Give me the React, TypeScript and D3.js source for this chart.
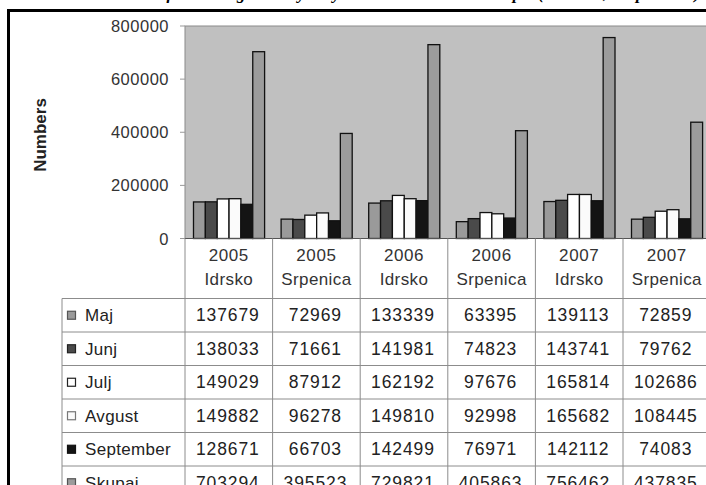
import React from "react";
import * as d3 from "d3";

const years = ["2005", "2005", "2006", "2006", "2007", "2007"];
const places = ["Idrsko", "Srpenica", "Idrsko", "Srpenica", "Idrsko", "Srpenica"];
const seriesNames = ["Maj", "Junj", "Julj", "Avgust", "September", "Skupaj"];
const maj = [137679, 72969, 133339, 63395, 139113, 72859];
const junj = [138033, 71661, 141981, 74823, 143741, 79762];
const julj = [149029, 87912, 162192, 97676, 165814, 102686];
const avgust = [149882, 96278, 149810, 92998, 165682, 108445];
const september = [128671, 66703, 142499, 76971, 142112, 74083];
const skupaj = [703294, 395523, 729821, 405863, 756462, 437835];
const yTicks = [0, 200000, 400000, 600000, 800000];

const seriesValues = [maj, junj, julj, avgust, september, skupaj];
const fills = ["#9a9a9a", "#4a4a4a", "#ffffff", "#fbfbfb", "#141414", "#9c9c9c"];
const keyStrokes = ["#555", "#222", "#222", "#777", "#111", "#555"];

const W = 706;
const H = 485;
const plotL = 185;
const band = 87.6;
const plotT = 26;
const plotB = 238.5;
const rowTop = 298.5;
const rowH = 33.5;

export default function App() {
  const cats = years.map((y, i) => `${y} ${places[i]}`);
  const x = d3.scaleBand<string>().domain(cats).range([plotL, plotL + band * cats.length]).padding(0);
  const xs = d3.scaleBand<string>().domain(seriesNames).range([8.5, band - 8]).padding(0);
  const y = d3.scaleLinear().domain([0, 800000]).range([plotB, plotT]);
  const font = "'Liberation Sans', Arial, sans-serif";

  return (
    <svg width={W} height={H} style={{ position: "absolute", left: 0, top: 0, background: "#fff" }} fontFamily={font}>
      {/* clipped title (only descenders visible, as in the reference) */}
      <text x={80} y={-1} fontFamily="'Liberation Serif', 'Times New Roman', serif" fontWeight="bold" fontStyle="italic" fontSize={17} textLength={620} lengthAdjust="spacing">
        Number of overnight stays by months in the camps (Idrsko, Srpenica)
      </text>
      {/* frame */}
      <line x1={8.5} x2={W} y1={10.5} y2={10.5} stroke="#000" strokeWidth={3} />
      <line x1={8.5} x2={8.5} y1={9} y2={H} stroke="#000" strokeWidth={3} />

      {/* plot area */}
      <rect x={plotL} y={plotT} width={W - plotL + 10} height={plotB - plotT} fill="#c0c0c0" stroke="#8a8a8a" strokeWidth={1} />

      {/* y axis */}
      {yTicks.map((t) => (
        <g key={t}>
          <line x1={180} x2={plotL} y1={y(t)} y2={y(t)} stroke="#999" strokeWidth={1} />
          <text x={169} y={y(t) + 6} textAnchor="end" fontSize={16.5} letterSpacing={0.5} fill="#333">
            {t}
          </text>
        </g>
      ))}
      <text transform={`translate(46,${135}) rotate(-90)`} textAnchor="middle" fontSize={17} fontWeight="bold" fill="#222">
        Numbers
      </text>

      {/* bars */}
      {cats.map((c, ci) => (
        <g key={c} transform={`translate(${x(c)},0)`}>
          {seriesNames.map((s, si) => {
            const v = seriesValues[si][ci];
            return (
              <rect
                key={s}
                x={xs(s)}
                y={y(v)}
                width={xs.bandwidth()}
                height={plotB - y(v)}
                fill={fills[si]}
                stroke="#111"
                strokeWidth={1.3}
              />
            );
          })}
        </g>
      ))}
      <line x1={plotL} x2={W} y1={plotB} y2={plotB} stroke="#555" strokeWidth={1} />

      {/* table grid */}
      {d3.range(cats.length + 1).map((i) => (
        <line key={"v" + i} x1={plotL + i * band} x2={plotL + i * band} y1={plotB} y2={H} stroke="#8c8c8c" strokeWidth={1} />
      ))}
      <line x1={62} x2={62} y1={rowTop} y2={H} stroke="#8c8c8c" strokeWidth={1} />
      {d3.range(seriesNames.length).map((r) => (
        <line key={"h" + r} x1={62} x2={W} y1={rowTop + r * rowH} y2={rowTop + r * rowH} stroke="#8c8c8c" strokeWidth={1} />
      ))}

      {/* header */}
      {cats.map((c, ci) => (
        <g key={"hd" + c}>
          <text x={(x(c) as number) + band / 2} y={261} textAnchor="middle" fontSize={17} letterSpacing={0.6} fill="#333">
            {years[ci]}
          </text>
          <text x={(x(c) as number) + band / 2} y={285} textAnchor="middle" fontSize={17} letterSpacing={0.4} fill="#333">
            {places[ci]}
          </text>
        </g>
      ))}

      {/* rows */}
      {seriesNames.map((s, si) => {
        const cy = rowTop + si * rowH + rowH / 2;
        return (
          <g key={"row" + s}>
            <rect x={67.5} y={cy - 4} width={8} height={8} fill={fills[si]} stroke={keyStrokes[si]} strokeWidth={1.2} />
            <text x={85} y={cy + 6} fontSize={17} letterSpacing={0.3} fill="#222">
              {s}
            </text>
            {cats.map((c, ci) => (
              <text key={c} x={(x(c) as number) + band / 2 - 1} y={cy + 6} textAnchor="middle" fontSize={17.5} letterSpacing={0.9} fill="#222">
                {seriesValues[si][ci]}
              </text>
            ))}
          </g>
        );
      })}
    </svg>
  );
}
